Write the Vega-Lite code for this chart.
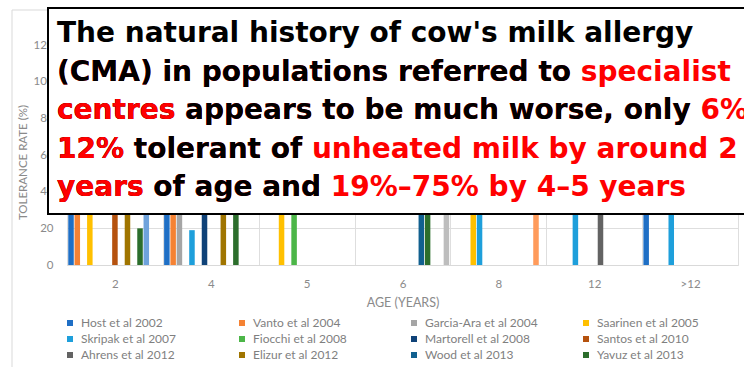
{
  "$schema": "https://vega.github.io/schema/vega-lite/v6.json",
  "width": 671,
  "height": 220,
  "autosize": {"type": "none"},
  "padding": {"left": 67, "top": 45, "right": 6, "bottom": 102},
  "background": "white",
  "config": {"view": {"stroke": null}, "font": "Lato"},
  "layer": [
    {
      "data": {"values": [{}]},
      "mark": {"type": "rect", "filled": false, "stroke": "#d9d9d9", "strokeWidth": 1, "x": -55, "x2": 720, "y": -35, "y2": 340},
      "encoding": {}
    },
    {
      "data": {"values": [
        {"age": "2", "study": "Host et al 2002", "rate": 56},
        {"age": "2", "study": "Vanto et al 2004", "rate": 51},
        {"age": "2", "study": "Saarinen et al 2005", "rate": 51},
        {"age": "2", "study": "Santos et al 2010", "rate": 38},
        {"age": "2", "study": "Elizur et al 2012", "rate": 57},
        {"age": "2", "study": "Yavuz et al 2013", "rate": 20},
        {"age": "2", "study": "Series13", "rate": 46},
        {"age": "4", "study": "Host et al 2002", "rate": 77},
        {"age": "4", "study": "Vanto et al 2004", "rate": 74},
        {"age": "4", "study": "Garcia-Ara et al 2004", "rate": 50},
        {"age": "4", "study": "Skripak et al 2007", "rate": 19},
        {"age": "4", "study": "Martorell et al 2008", "rate": 57},
        {"age": "4", "study": "Elizur et al 2012", "rate": 70},
        {"age": "4", "study": "Yavuz et al 2013", "rate": 52},
        {"age": "5", "study": "Saarinen et al 2005", "rate": 74},
        {"age": "5", "study": "Fiocchi et al 2008", "rate": 75},
        {"age": "6", "study": "Wood et al 2013", "rate": 45},
        {"age": "6", "study": "Yavuz et al 2013", "rate": 66},
        {"age": "6", "study": "Series15", "rate": 60},
        {"age": "8", "study": "Saarinen et al 2005", "rate": 85},
        {"age": "8", "study": "Skripak et al 2007", "rate": 42},
        {"age": "8", "study": "Series14", "rate": 72},
        {"age": "12", "study": "Skripak et al 2007", "rate": 64},
        {"age": "12", "study": "Ahrens et al 2012", "rate": 85},
        {"age": ">12", "study": "Host et al 2002", "rate": 92},
        {"age": ">12", "study": "Skripak et al 2007", "rate": 79}
      ]},
      "mark": {"type": "bar"},
      "encoding": {
        "x": {
          "field": "age", "type": "nominal",
          "sort": ["2", "4", "5", "6", "8", "12", ">12"],
          "scale": {"paddingInner": 0, "paddingOuter": 0},
          "axis": {
            "title": "AGE (YEARS)", "labelAngle": 0, "grid": true, "gridColor": "#dedede",
            "tickBand": "extent", "ticks": false, "domain": true, "domainColor": "#d9d9d9",
            "labelPadding": 13, "labelColor": "#8a8a8a", "labelFontSize": 11.5, "labelFont": "Lato",
            "titleFont": "Lato", "titleFontSize": 12.5, "titleFontWeight": "normal", "titleColor": "#8a8a8a",
            "titlePadding": 7, "zindex": 0
          }
        },
        "xOffset": {
          "field": "study", "type": "nominal",
          "scale": {
            "domain": ["Host et al 2002", "Vanto et al 2004", "Garcia-Ara et al 2004", "Saarinen et al 2005", "Skripak et al 2007", "Fiocchi et al 2008", "Martorell et al 2008", "Santos et al 2010", "Ahrens et al 2012", "Elizur et al 2012", "Wood et al 2013", "Yavuz et al 2013", "Series13", "Series14", "Series15"],
            "paddingInner": 0.12, "paddingOuter": 0.2
          }
        },
        "y": {
          "field": "rate", "type": "quantitative",
          "scale": {"domain": [0, 120]},
          "axis": {
            "title": "TOLERANCE RATE (%)", "values": [0, 20, 40, 60, 80, 100, 120],
            "grid": true, "gridColor": "#dedede", "domain": false, "ticks": false,
            "labelPadding": 14, "labelColor": "#8a8a8a", "labelFontSize": 11.5, "labelFont": "Lato",
            "titleFont": "Lato", "titleFontSize": 11.5, "titleFontWeight": "normal", "titleColor": "#8a8a8a",
            "titlePadding": 4, "titleY": 117, "zindex": 0
          }
        },
        "color": {
          "field": "study", "type": "nominal",
          "scale": {
            "domain": ["Host et al 2002", "Vanto et al 2004", "Garcia-Ara et al 2004", "Saarinen et al 2005", "Skripak et al 2007", "Fiocchi et al 2008", "Martorell et al 2008", "Santos et al 2010", "Ahrens et al 2012", "Elizur et al 2012", "Wood et al 2013", "Yavuz et al 2013", "Series13", "Series14", "Series15"],
            "range": ["#1f6fc5", "#f58233", "#a5a5a5", "#ffc000", "#1e9fdb", "#4cb648", "#0f4278", "#b5520e", "#636363", "#a07500", "#11608f", "#2c6e2c", "#6fa3dc", "#ff9b5b", "#bdbdbd"]
          },
          "legend": {
            "values": ["Host et al 2002", "Vanto et al 2004", "Garcia-Ara et al 2004", "Saarinen et al 2005", "Skripak et al 2007", "Fiocchi et al 2008", "Martorell et al 2008", "Santos et al 2010", "Ahrens et al 2012", "Elizur et al 2012", "Wood et al 2013", "Yavuz et al 2013"],
            "orient": "none", "legendX": -3, "legendY": 272, "direction": "horizontal", "columns": 4,
            "title": null, "symbolType": "square", "symbolSize": 36, "symbolStrokeWidth": 0,
            "labelFont": "Lato", "labelFontSize": 12, "labelColor": "#7f7f7f", "labelOffset": 5,
            "rowPadding": 4, "columnPadding": 42, "gridAlign": "all"
          }
        }
      }
    },
    {
      "data": {"values": [{}]},
      "mark": {"type": "rect", "fill": "white", "stroke": "black", "strokeWidth": 2, "x": -19, "x2": 720, "y": -37, "y2": 169},
      "encoding": {}
    },
    {
      "data": {"values": [{}]},
      "mark": {
        "type": "text", "x": -10, "y": 35.5, "align": "left", "baseline": "alphabetic",
        "font": "DejaVu Sans", "fontWeight": "bold", "fontSize": 28, "lineHeight": 38.5, "fill": "#ff0000",
        "text": ["(CMA) in populations referred to specialist", "centres appears to be much worse, only 6%-", "12% tolerant of unheated milk by around 2", "years of age and 19%–75% by 4–5 years"]
      },
      "encoding": {}
    },
    {
      "data": {"values": [{}]},
      "mark": {
        "type": "text", "x": -10, "y": -3, "align": "left", "baseline": "alphabetic",
        "font": "DejaVu Sans", "fontWeight": "bold", "fontSize": 28, "lineHeight": 38.5, "fill": "#000000",
        "text": ["The natural history of cow's milk allergy", "(CMA) in populations referred to ", "centres appears to be much worse, only ", "12% tolerant of ", "years of age and "]
      },
      "encoding": {}
    },
    {
      "data": {"values": [{}]},
      "mark": {
        "type": "text", "x": -10, "y": 74, "align": "left", "baseline": "alphabetic",
        "font": "DejaVu Sans", "fontWeight": "bold", "fontSize": 28, "lineHeight": 38.5, "fill": "#ff0000",
        "text": ["centres", "12%", "years"]
      },
      "encoding": {}
    }
  ]
}
